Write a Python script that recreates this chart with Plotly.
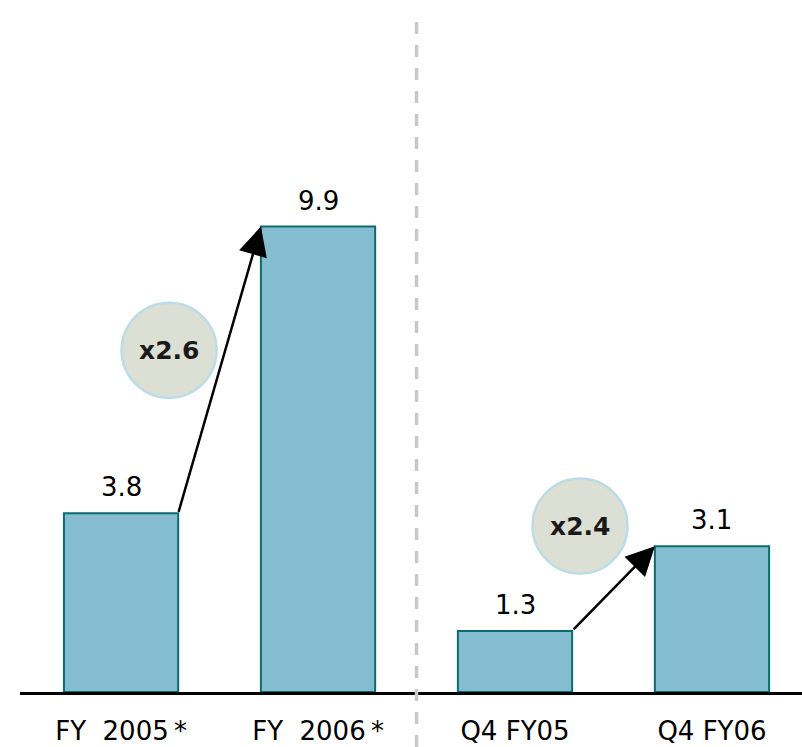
import plotly.graph_objects as go

categories = ["FY\u00a0\u00a02005\u2009*", "FY\u00a0\u00a02006\u2009*", "Q4 FY05", "Q4 FY06"]
values = [3.8, 9.9, 1.3, 3.1]
value_labels = ["3.8", "9.9", "1.3", "3.1"]
growth_labels = ["x2.6", "x2.4"]

BAR_W = 0.58
FONT = "DejaVu Sans"

fig = go.Figure()
fig.add_trace(go.Bar(
    x=list(range(len(categories))), y=values, width=BAR_W,
    marker=dict(color="#84bdd0", line=dict(color="#0d6b70", width=2)),
    hoverinfo="skip",
))

annotations = []
# value labels
for i, (v, t) in enumerate(zip(values, value_labels)):
    annotations.append(dict(x=i, y=v, text=t, showarrow=False, yanchor="bottom",
                            yshift=9, font=dict(family=FONT, size=26, color="black")))

# growth arrows (from top-right corner of earlier bar to top-left of later bar)
for a, b in [(0, 1), (2, 3)]:
    annotations.append(dict(x=b - BAR_W / 2, y=values[b], ax=a + BAR_W / 2, ay=values[a],
                            xref="x", yref="y", axref="x", ayref="y", text="",
                            showarrow=True, arrowhead=2, arrowsize=2.3, arrowwidth=2.5,
                            arrowcolor="black", standoff=0))

# growth badges
badge_pos = [(0.244, 7.27), (2.33, 3.53)]
shapes = []
for (bx, by), lab in zip(badge_pos, growth_labels):
    shapes.append(dict(type="circle", xref="x", yref="y", xsizemode="pixel", ysizemode="pixel",
                       xanchor=bx, yanchor=by, x0=-47.5, x1=47.5, y0=-47.5, y1=47.5,
                       fillcolor="#dcdfd3", line=dict(color="#bcdce6", width=2.5), layer="above"))
    annotations.append(dict(x=bx, y=by, text="<b>" + lab + "</b>", showarrow=False,
                            font=dict(family=FONT, size=25, color="#1a1a1a")))

# divider
shapes.append(dict(type="line", xref="x", yref="paper", x0=1.5, x1=1.5, y0=-0.0795, y1=0.984,
                   line=dict(color="#c8c8c8", width=3.5, dash="12px,11px"), layer="above"))

fig.update_layout(
    width=802, height=747,
    margin=dict(l=20, r=0, t=0, b=55),
    paper_bgcolor="white", plot_bgcolor="white",
    showlegend=False,
    shapes=shapes, annotations=annotations,
    font=dict(family=FONT, size=26, color="black"),
    xaxis=dict(range=[-0.513, 3.457], tickmode="array", tickvals=list(range(len(categories))),
               ticktext=categories, showgrid=False, zeroline=False,
               showline=True, linecolor="black", linewidth=3, ticks="",
               ticklabelstandoff=14,
               tickfont=dict(family=FONT, size=26, color="black"), fixedrange=True),
    yaxis=dict(range=[0, 14.72], visible=False, fixedrange=True),
)

fig.write_html("out.html")
